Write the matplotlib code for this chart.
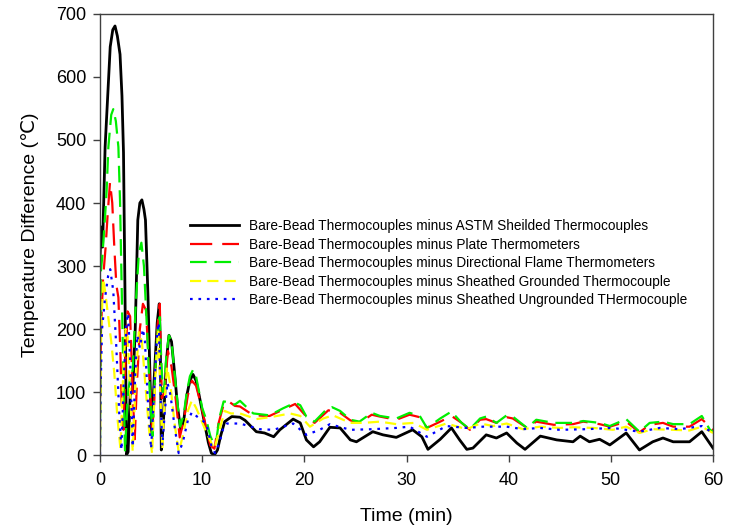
import matplotlib
matplotlib.use("Agg")
import matplotlib.pyplot as plt

plt.rcParams['font.family'] = ['Liberation Sans', 'DejaVu Sans']

# ---------------------------------------------------------------- data
astm_t = [0, 0.1, 0.25, 0.5, 1.0, 1.25, 1.47, 1.7, 1.96, 2.15, 2.3, 2.45, 2.6, 2.75, 2.95, 3.2,
          3.45, 3.7, 3.9, 4.1, 4.3, 4.45, 4.7, 4.9, 5.05, 5.3, 5.6, 5.8, 5.9, 6.0, 6.2, 6.5,
          6.75, 7.0, 7.3, 7.6, 7.9, 8.2, 8.5, 8.8, 9.1, 9.4, 9.7, 10.0, 10.3, 10.6, 10.9, 11.2,
          11.5, 11.8, 12.2, 12.9, 13.7, 14.2, 15.3, 16.1, 17.0, 17.6, 18.9, 19.6, 20.2, 20.9,
          21.5, 22.5, 23.5, 24.5, 25.1, 26.7, 27.7, 29.0, 30.6, 31.5, 32.1, 33.3, 34.4, 35.2,
          35.9, 36.5, 37.8, 38.8, 39.8, 40.8, 41.6, 43.1, 44.7, 46.3, 47.0, 47.9, 48.9, 49.9,
          51.5, 52.8, 54.1, 55.1, 56.1, 57.7, 58.9, 60.0]
astm_v = [310, 362, 330, 489, 648, 675, 681, 665, 636, 570, 480, 250, 0, 5, 95, 103,
          200, 373, 400, 405, 390, 373, 250, 120, 35, 120, 210, 240, 180, 8, 50, 150,
          190, 180, 130, 75, 40, 55, 95, 118, 128, 118, 95, 70, 45, 20, 3, 0,
          8, 30, 53, 61, 60, 55, 37, 35, 29, 40, 57, 51, 24, 13,
          21, 44, 43, 24, 21, 37, 32, 28, 40, 29, 9, 25, 43, 24,
          9, 11, 32, 27, 35, 19, 9, 30, 24, 21, 30, 21, 25, 16,
          35, 8, 21, 27, 21, 21, 37, 11]

plate_t = [0, 0.1, 0.3, 0.55, 0.75, 0.98, 1.2, 1.4, 1.6, 1.8, 2.0, 2.15, 2.3, 2.5, 2.7, 2.95,
           3.2, 3.4, 3.6, 3.9, 4.2, 4.5, 4.8, 5.1, 5.3, 5.6, 5.85, 6.05, 6.3, 6.65, 7.0, 7.4,
           7.8, 8.2, 8.6, 9.0, 9.4, 9.8, 10.3, 10.8, 11.2, 11.6, 12.1, 12.6, 13.2, 13.7, 15.0,
           16.6, 17.9, 19.1, 20.2, 21.0, 22.35, 23.5, 24.5, 25.4, 26.6, 27.4, 29.0, 30.3, 31.3,
           32.0, 33.3, 34.4, 35.4, 36.2, 37.2, 37.8, 38.8, 39.8, 40.4, 41.8, 42.7, 44.4, 46.3,
           47.3, 48.9, 49.9, 51.5, 52.8, 53.8, 55.1, 56.1, 57.7, 58.9, 60.0]
plate_v = [90, 200, 280, 330, 382, 433, 400, 330, 270, 250, 160, 60, 40, 150, 228, 220,
           100, 25, 110, 200, 240, 230, 140, 40, 80, 200, 240, 90, 100, 165, 140, 90,
           28, 55, 95, 118, 110, 85, 50, 15, 10, 50, 80, 85, 78, 77, 63,
           62, 72, 81, 61, 51, 71, 67, 55, 51, 64, 61, 56, 64, 60,
           43, 53, 62, 51, 40, 56, 57, 51, 60, 58, 43, 53, 48, 49,
           53, 49, 45, 53, 36, 48, 51, 45, 45, 57, 40]

flame_t = [0, 0.08, 0.25, 0.5, 0.65, 0.82, 1.1, 1.3, 1.55, 1.8, 1.96, 2.2, 2.45, 2.7, 2.95, 3.2,
           3.5, 3.8, 4.05, 4.3, 4.6, 4.9, 5.15, 5.4, 5.65, 5.85, 6.0, 6.15, 6.3, 6.5, 6.75, 7.0,
           7.3, 7.6, 7.85, 8.2, 8.5, 8.8, 9.1, 9.4, 9.7, 10.0, 10.4, 10.8, 11.1, 11.4, 11.7, 12.1,
           12.6, 13.2, 13.7, 15.0, 16.6, 17.9, 19.1, 19.6, 20.2, 21.0, 22.2, 22.7, 23.5, 24.5,
           25.4, 26.6, 27.4, 29.0, 30.3, 31.3, 32.0, 33.3, 34.4, 35.4, 36.2, 37.2, 37.8, 38.8,
           39.8, 40.4, 41.8, 42.7, 44.4, 46.3, 47.3, 48.9, 49.9, 51.5, 52.8, 53.8, 55.1, 56.1,
           57.7, 58.9, 59.7, 60.0]
flame_v = [20, 290, 320, 380, 420, 489, 540, 549, 530, 489, 404, 200, 5, 90, 125, 135,
           240, 320, 337, 300, 200, 90, 30, 130, 200, 219, 150, 100, 110, 160, 190, 180,
           130, 80, 45, 65, 100, 125, 135, 125, 100, 75, 56, 30, 19, 25, 60, 85,
           84, 80, 86, 66, 63, 74, 83, 79, 61, 53, 73, 76, 70, 56,
           53, 67, 62, 58, 67, 62, 43, 58, 69, 51, 41, 58, 61, 51,
           63, 61, 43, 56, 51, 51, 54, 51, 46, 57, 37, 51, 53, 49,
           49, 62, 40, 37]

grounded_t = [0, 0.1, 0.3, 0.5, 0.8, 1.1, 1.4, 1.7, 2.0, 2.25, 2.5, 2.7, 2.95, 3.2, 3.5, 3.8,
              4.1, 4.4, 4.8, 5.1, 5.4, 5.7, 5.9, 6.1, 6.3, 6.55, 6.9, 7.3, 7.7, 8.1, 8.6, 9.0,
              9.4, 9.8, 10.3, 10.9, 11.2, 11.7, 12.2, 12.8, 13.7, 15.3, 17.0, 18.6, 19.6, 20.55,
              21.85, 22.8, 24.5, 25.8, 27.4, 29.0, 30.7, 32.0, 33.9, 35.9, 37.2, 38.5, 39.8, 41.4,
              43.05, 45.0, 46.3, 48.3, 50.2, 51.5, 52.8, 54.1, 56.1, 57.7, 58.9, 60.0]
grounded_v = [10, 180, 280, 260, 220, 180, 130, 60, 10, 120, 200, 190, 100, 5, 120, 195,
              180, 120, 40, 2, 120, 200, 100, 8, 80, 140, 110, 50, 5, 30, 70, 87,
              75, 60, 40, 19, 10, 40, 70, 66, 66, 57, 61, 66, 62, 45,
              58, 63, 51, 51, 53, 49, 51, 40, 50, 41, 50, 46, 50, 41,
              45, 43, 44, 43, 40, 45, 35, 41, 40, 39, 45, 35]

ungrounded_t = [0, 0.05, 0.2, 0.5, 0.8, 1.0, 1.3, 1.6, 1.9, 2.1, 2.35, 2.6, 2.75, 2.95, 3.2, 3.45,
                3.65, 3.9, 4.2, 4.4, 4.7, 5.0, 5.3, 5.6, 5.75, 5.95, 6.1, 6.35, 6.6, 6.9, 7.3, 7.7,
                8.1, 8.6, 9.0, 9.5, 10.0, 10.4, 10.9, 11.25, 11.7, 12.1, 12.4, 13.0, 13.7, 15.65,
                17.0, 18.9, 20.2, 21.5, 22.5, 24.5, 26.7, 29.0, 30.3, 32.0, 33.9, 35.9, 37.5, 39.8,
                41.4, 43.05, 45.0, 47.6, 50.2, 52.8, 54.8, 56.75, 58.9, 60.0]
ungrounded_v = [0, 100, 200, 250, 285, 295, 260, 170, 60, 8, 130, 210, 225, 150, 13, 130,
                190, 170, 200, 180, 80, 10, 100, 195, 210, 80, 15, 70, 115, 95, 45, 3,
                20, 55, 68, 61, 55, 50, 15, 3, 20, 45, 50, 50, 50, 41,
                40, 50, 32, 40, 49, 40, 41, 43, 45, 29, 46, 43, 45, 45,
                41, 43, 40, 41, 43, 37, 43, 41, 46, 35]

labels = ['Bare-Bead Thermocouples minus ASTM Sheilded Thermocouples',
          'Bare-Bead Thermocouples minus Plate Thermometers',
          'Bare-Bead Thermocouples minus Directional Flame Thermometers',
          'Bare-Bead Thermocouples minus Sheathed Grounded Thermocouple',
          'Bare-Bead Thermocouples minus Sheathed Ungrounded THermocouple']

# ---------------------------------------------------------------- plot
fig = plt.figure(figsize=(7.31, 5.32), dpi=100)
ax = fig.add_axes([0.1368, 0.1447, 0.8386, 0.829])

ax.plot(astm_t, astm_v, color='black', lw=2.0, label=labels[0])
ax.plot(plate_t, plate_v, color='#ff0000', lw=1.6, dashes=(10, 4.5), label=labels[1])
ax.plot(flame_t, flame_v, color='#00ee00', lw=1.6, dashes=(7.5, 3.5), label=labels[2])
ax.plot(grounded_t, grounded_v, color='#ffff00', lw=1.6, dashes=(5, 2.8), label=labels[3])
ax.plot(ungrounded_t, ungrounded_v, color='#0000ff', lw=1.6, dashes=(1.2, 2.6), label=labels[4])

ax.set_xlim(0, 60)
ax.set_ylim(0, 700)
ax.set_xticks(range(0, 61, 10))
ax.set_yticks(range(0, 701, 100))
ax.tick_params(direction='out', length=5, width=1, colors='#404040', labelcolor='black',
               labelsize=13, top=False, right=False)
ax.tick_params(axis='x', pad=7)
ax.tick_params(axis='y', pad=5)
for s in ax.spines.values():
    s.set_color('#404040')
    s.set_linewidth(1.0)

ax.set_xlabel('Time (min)', fontsize=14, labelpad=14)
ax.set_ylabel('Temperature Difference (℃)', fontsize=14, labelpad=12)

ax.legend(loc='upper left', bbox_to_anchor=(0.135, 0.55), frameon=False, fontsize=9.8,
          handlelength=3.6, handletextpad=0.8, labelspacing=0.33, borderpad=0)

fig.savefig('out.png', dpi=100)
